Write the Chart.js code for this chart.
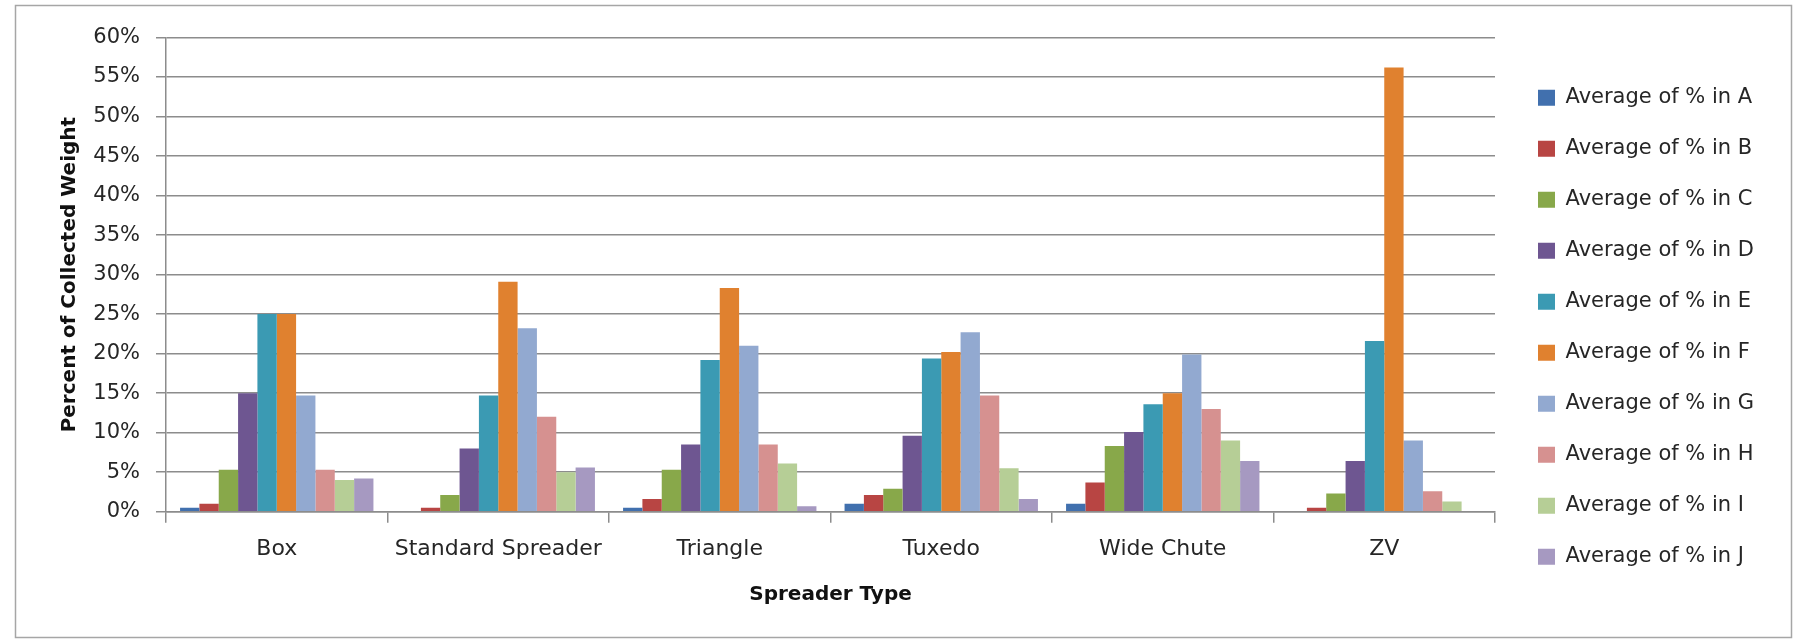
<!DOCTYPE html>
<html>
<head>
<meta charset="utf-8">
<title>Spreader Type – Percent of Collected Weight</title>
<script src="https://cdn.jsdelivr.net/npm/chart.js@4.4.1/dist/chart.umd.min.js"></script>
<style>
  html, body { margin: 0; padding: 0; background: #ffffff; }
  #wrap { width: 1803px; height: 643px; position: relative; }
</style>
</head>
<body>
<div id="wrap"><canvas id="chart"></canvas></div>
<script>
// Spreader types along the x axis
const categories = ['Box', 'Standard Spreader', 'Triangle', 'Tuxedo', 'Wide Chute', 'ZV'];

// Legend names for each series
const seriesNames = [
  'Average of % in A', 'Average of % in B', 'Average of % in C', 'Average of % in D',
  'Average of % in E', 'Average of % in F', 'Average of % in G', 'Average of % in H',
  'Average of % in I', 'Average of % in J'
];

// Average percent of collected weight per zone, one value per spreader type
const inA = [0.5, 0.0, 0.5, 1.0, 1.0, 0.0];
const inB = [1.0, 0.5, 1.6, 2.1, 3.7, 0.5];
const inC = [5.3, 2.1, 5.3, 2.9, 8.3, 2.3];
const inD = [15.0, 8.0, 8.5, 9.6, 10.1, 6.4];
const inE = [25.0, 14.7, 19.2, 19.4, 13.6, 21.6];
const inF = [25.0, 29.1, 28.3, 20.2, 15.0, 56.2];
const inG = [14.7, 23.2, 21.0, 22.7, 19.9, 9.0];
const inH = [5.3, 12.0, 8.5, 14.7, 13.0, 2.6];
const inI = [4.0, 5.0, 6.1, 5.5, 9.0, 1.3];
const inJ = [4.2, 5.6, 0.7, 1.6, 6.4, 0.0];

// Y axis range and step, in percent
const yMin = 0;
const yMax = 60;
const yStep = 5;

const seriesValues = [inA, inB, inC, inD, inE, inF, inG, inH, inI, inJ];
const seriesColors = [
  '#4170AE', '#B84543', '#88A84A', '#6E5691', '#3B9AB3',
  '#E0812F', '#92A9D0', '#D69190', '#B6CE96', '#A699C1'
];

const FONT = "'DejaVu Sans', 'Verdana', sans-serif";
const TEXT_COLOR = '#262626';
const GRID_COLOR = '#8c8c8c';
const LEGEND_SIZE = 21;
const LEGEND_BOX_W = 17;
const LEGEND_PAD = 30;

// Page geometry
const CHART_W = 1803;
const CHART_H = 643;
const PAD_LEFT = 22;
const PAD_TOP = 37.5;
const PAD_BOTTOM = 26.1;
const PLOT_LEFT = 166;
const PLOT_BOTTOM = 511.7;
const LEGEND_LEFT = 1508;

Chart.defaults.font.family = FONT;
Chart.defaults.color = TEXT_COLOR;

// Legend width depends on the longest label; size the right margin from it
const probe = document.createElement('canvas').getContext('2d');
probe.font = LEGEND_SIZE + 'px ' + FONT;
const widestLegend = Math.max(...seriesNames.map(n => probe.measureText(n).width));
const legendWidth = LEGEND_PAD + LEGEND_BOX_W + LEGEND_SIZE / 2 + widestLegend + 10;
const rightPad = Math.max(0, CHART_W - LEGEND_LEFT - legendWidth);

// White page with a light frame around the whole chart
const framePlugin = {
  id: 'frame',
  beforeDraw(chart) {
    const ctx = chart.ctx;
    ctx.save();
    ctx.fillStyle = '#ffffff';
    ctx.fillRect(0, 0, chart.width, chart.height);
    ctx.strokeStyle = '#a6a6a6';
    ctx.lineWidth = 1.5;
    ctx.strokeRect(15.5, 5.5, chart.width - 27, chart.height - 11);
    ctx.restore();
  }
};

const datasets = seriesNames.map((name, i) => ({
  label: name,
  data: seriesValues[i],
  backgroundColor: seriesColors[i],
  borderColor: seriesColors[i],
  borderWidth: 0,
  categoryPercentage: 0.873,
  barPercentage: 1.0
}));

new Chart(document.getElementById('chart'), {
  type: 'bar',
  data: { labels: categories, datasets },
  plugins: [framePlugin],
  options: {
    responsive: true,
    maintainAspectRatio: false,
    animation: false,
    devicePixelRatio: 1,
    layout: { padding: { left: PAD_LEFT, top: PAD_TOP, bottom: PAD_BOTTOM, right: rightPad } },
    plugins: {
      legend: {
        position: 'right',
        labels: {
          boxWidth: LEGEND_BOX_W,
          boxHeight: 16,
          padding: LEGEND_PAD,
          color: TEXT_COLOR,
          font: { size: LEGEND_SIZE, family: FONT }
        }
      },
      tooltip: { enabled: false }
    },
    scales: {
      x: {
        grid: {
          display: true,
          drawOnChartArea: false,
          drawTicks: true,
          tickLength: 11,
          offset: true,
          color: GRID_COLOR,
          lineWidth: 1.5
        },
        border: { display: true, color: GRID_COLOR, width: 1.5 },
        ticks: { font: { size: 22 }, color: TEXT_COLOR, padding: 13, maxRotation: 0 },
        title: {
          display: true,
          text: 'Spreader Type',
          color: '#111111',
          font: { size: 20, weight: 'bold' },
          padding: { top: 4, bottom: 10 }
        },
        afterFit(scale) { scale.height = CHART_H - PAD_BOTTOM - PLOT_BOTTOM; }
      },
      y: {
        min: yMin,
        max: yMax,
        grid: {
          color: GRID_COLOR,
          lineWidth: 1.5,
          drawTicks: true,
          tickLength: 10
        },
        border: { display: true, color: GRID_COLOR, width: 1.5 },
        ticks: {
          stepSize: yStep,
          font: { size: 21 },
          color: TEXT_COLOR,
          padding: 16,
          callback: v => v + '%'
        },
        title: {
          display: true,
          text: 'Percent of Collected Weight',
          color: '#111111',
          font: { size: 20, weight: 'bold' },
          padding: { top: 36, bottom: 8 }
        },
        afterFit(scale) { scale.width = PLOT_LEFT - PAD_LEFT; }
      },
      // narrow empty strip between the plot and the legend
      gap: {
        type: 'linear',
        position: 'right',
        display: true,
        grid: { display: false },
        border: { display: false },
        ticks: { display: false },
        afterFit(scale) { scale.width = 13; }
      }
    }
  }
});
</script>
</body>
</html>
